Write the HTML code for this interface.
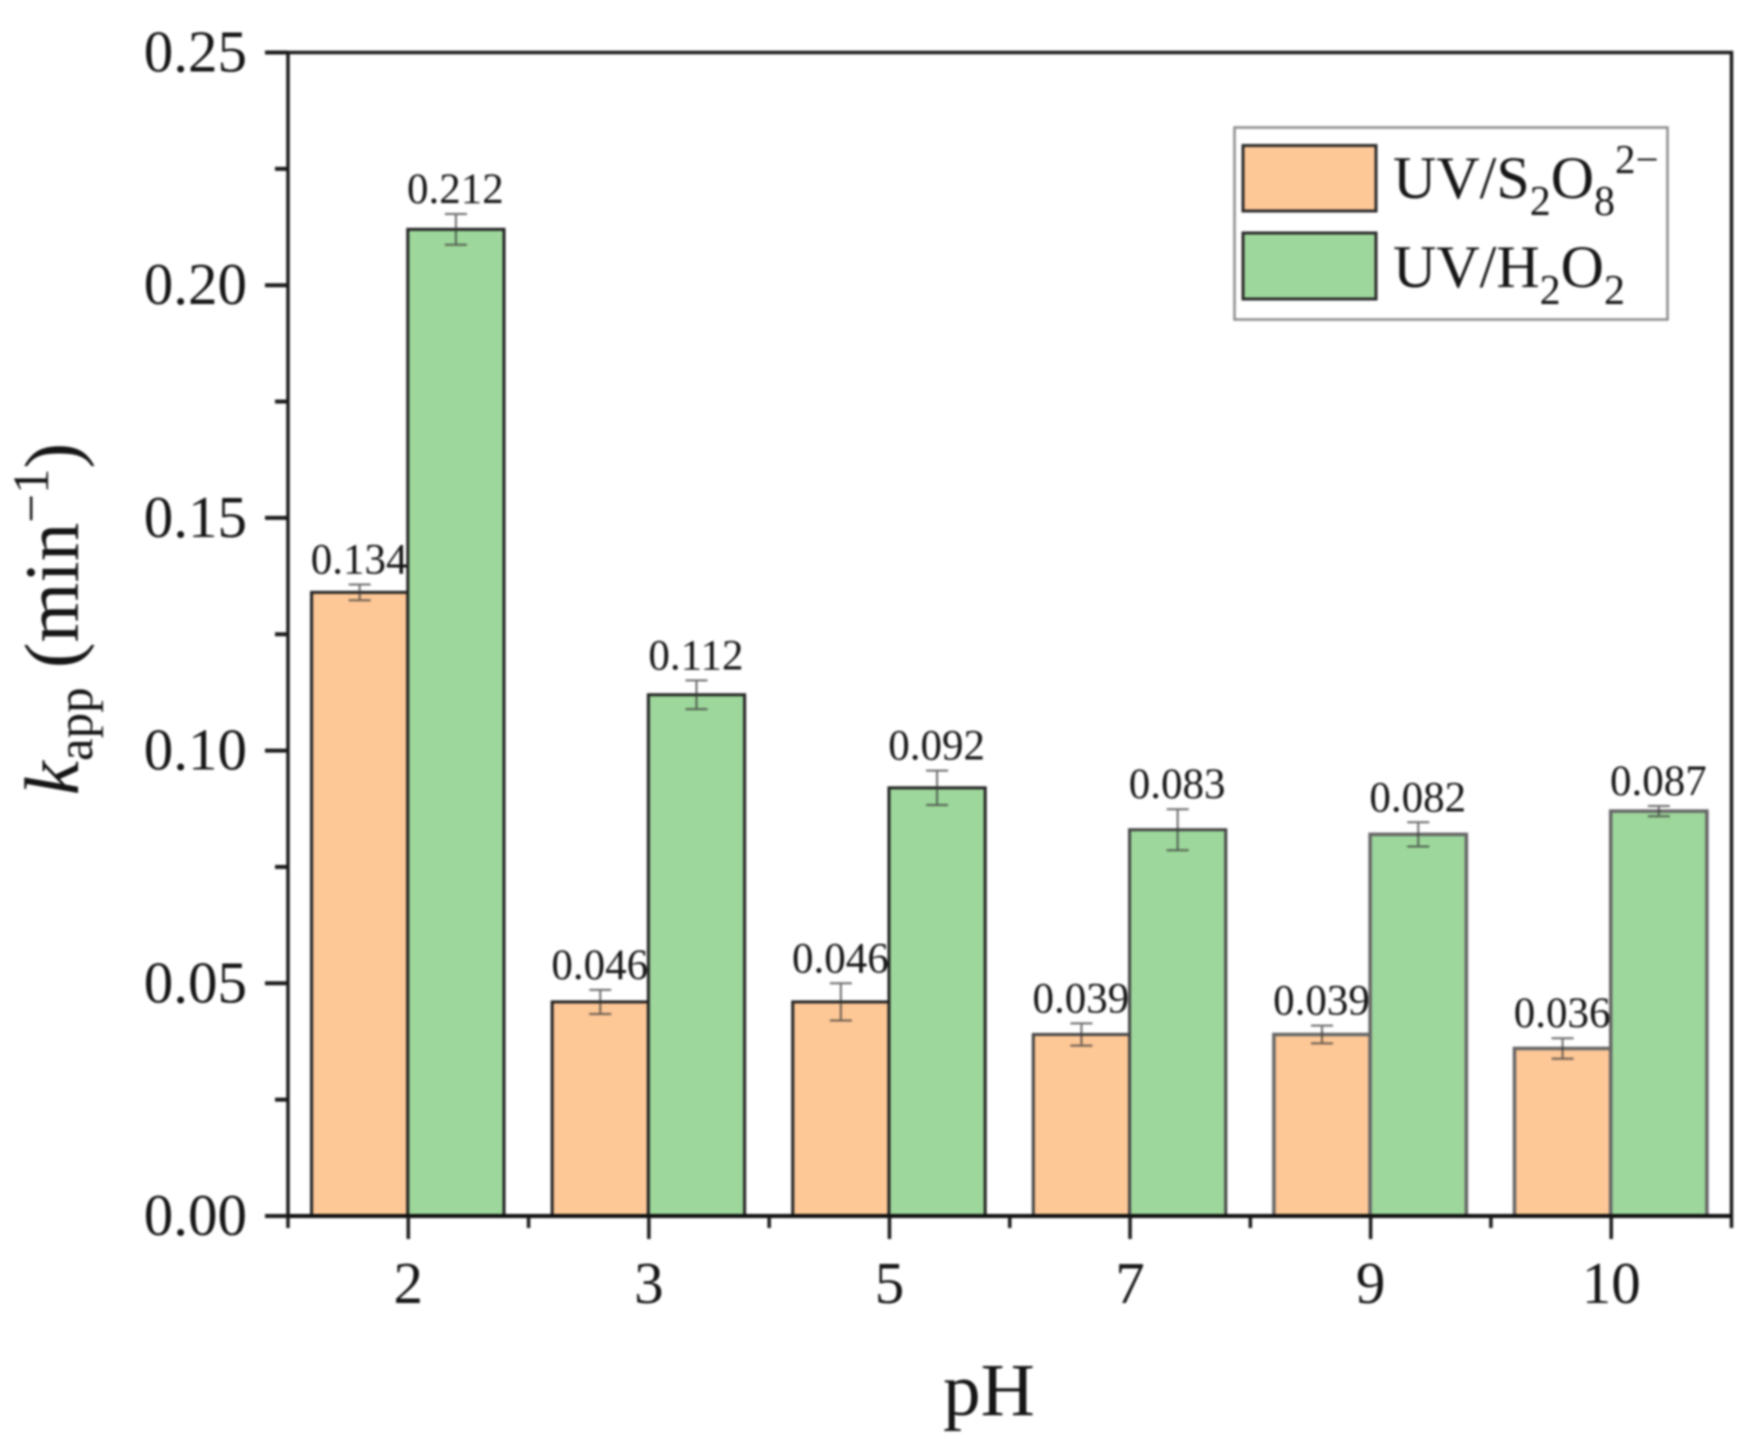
<!DOCTYPE html>
<html lang="en">
<head>
<meta charset="utf-8">
<title>Apparent rate constant vs pH</title>
<style>
html,body{margin:0;padding:0;background:#fff;}
svg{display:block;filter:blur(1px);}
text{font-family:"Liberation Serif",serif;fill:#151515;}
</style>
</head>
<body>
<svg id="chart" xmlns="http://www.w3.org/2000/svg" width="1753" height="1454" viewBox="0 0 1753 1454">
  <rect x="0" y="0" width="1753" height="1454" fill="#ffffff"/>
  <g id="bars-a"></g>
  <g id="bars-b"></g>
  <g id="axes"></g>
  <text x="989" y="1415" font-size="75" text-anchor="middle">pH</text>
  <text transform="translate(78,619) rotate(-90)" font-size="77" text-anchor="middle"><tspan font-style="italic">k</tspan><tspan font-size="51" dy="14">app</tspan><tspan dy="-14"> (min</tspan><tspan font-size="51" dy="-30">−1</tspan><tspan dy="30">)</tspan></text>
  <g>
    <rect x="1234.5" y="127.5" width="433" height="192" fill="#ffffff" stroke="#8c8c8c" stroke-width="2.5"/>
    <rect x="1243" y="145.5" width="133" height="65.5" fill="#FDC796" stroke="#2a2a2a" stroke-width="3"/>
    <text x="1393" y="198" font-size="60">UV/S<tspan font-size="42" dy="17">2</tspan><tspan dy="-17">O</tspan><tspan font-size="42" dy="17">8</tspan><tspan font-size="41" dy="-42">2−</tspan></text>
    <rect x="1243" y="233" width="133" height="66" fill="#9DD79B" stroke="#2a2a2a" stroke-width="3"/>
    <text x="1393" y="287" font-size="60">UV/H<tspan font-size="42" dy="17">2</tspan><tspan dy="-17">O</tspan><tspan font-size="42" dy="17">2</tspan></text>
  </g>
</svg>
<script>
const categories = ['2', '3', '5', '7', '9', '10'];
const persulfateValues = [0.134, 0.046, 0.046, 0.039, 0.039, 0.036];
const persulfateErrors = [0.0017, 0.0026, 0.004, 0.0024, 0.0019, 0.0022];
const peroxideValues = [0.212, 0.112, 0.092, 0.083, 0.082, 0.087];
const peroxideErrors = [0.0033, 0.0031, 0.0037, 0.0044, 0.0026, 0.0011];
const persulfateLabels = ['0.134', '0.046', '0.046', '0.039', '0.039', '0.036'];
const peroxideLabels = ['0.212', '0.112', '0.092', '0.083', '0.082', '0.087'];
const yMajorTicks = ['0.00', '0.05', '0.10', '0.15', '0.20', '0.25'];
const yMinorTicks = [0.025, 0.075, 0.125, 0.175, 0.225];

const NS = 'http://www.w3.org/2000/svg';
const plotLeft = 288, plotRight = 1731.5, plotTop = 52.5, plotBottom = 1216;
const yMax = 0.25;
const catStep = (plotRight - plotLeft) / categories.length;
const barWidth = catStep * 0.4;

function yScale(v) { return plotBottom - (v / yMax) * (plotBottom - plotTop); }
function xCenter(i) { return plotLeft + catStep * (i + 0.5); }
function strokeFor(i) { return i >= 4 ? '#666666' : (i === 3 ? '#444444' : '#222222'); }

function make(tag, attrs, parent) {
  const el = document.createElementNS(NS, tag);
  for (const k in attrs) el.setAttribute(k, attrs[k]);
  parent.appendChild(el);
  return el;
}

function drawSeries(group, values, errors, labels, fill, side, prefix) {
  values.forEach(function (v, i) {
    const cx = xCenter(i);
    const x0 = side < 0 ? cx - barWidth : cx;
    const bar = make('rect', {x: x0 - 0.5, y: yScale(v), width: barWidth, height: plotBottom - yScale(v), fill: fill, stroke: strokeFor(i), 'stroke-width': i >= 4 ? 3.5 : 3}, group);
    
    

    const mid = x0 + barWidth / 2 - 0.5;
    const top = yScale(v + errors[i]);
    const bottom = yScale(v - errors[i]);
    const err = make('path', {d: 'M' + (mid - 11) + ' ' + top + 'H' + (mid + 11) + 'M' + mid + ' ' + top + 'V' + bottom + 'M' + (mid - 11) + ' ' + bottom + 'H' + (mid + 11), fill: 'none', stroke: '#3a3a3a', 'stroke-opacity': 0.75, 'stroke-width': 2}, group);
    
    

    const label = make('text', {x: mid - 0.5, y: top - 11, 'font-size': 43, 'text-anchor': 'middle'}, group);
    label.textContent = labels[i];
    
    
  });
}

drawSeries(document.getElementById('bars-a'), persulfateValues, persulfateErrors, persulfateLabels, '#FDC796', -1, 'persulfate');
drawSeries(document.getElementById('bars-b'), peroxideValues, peroxideErrors, peroxideLabels, '#9DD79B', 1, 'peroxide');

const axes = document.getElementById('axes');

const frame = make('path', {d: 'M' + plotLeft + ' ' + plotBottom + 'V' + plotTop + 'H' + plotRight + 'V' + plotBottom, fill: 'none', stroke: '#1a1a1a', 'stroke-width': 3.5}, axes);



const xAxisLine = make('line', {x1: plotLeft, x2: plotRight, y1: plotBottom, y2: plotBottom, stroke: '#0d0d0d', 'stroke-width': 4}, axes);



yMajorTicks.forEach(function (t) {
  const y = yScale(parseFloat(t));
  const tick = make('line', {x1: 265, x2: plotLeft, y1: y, y2: y, stroke: '#1a1a1a', 'stroke-width': 4}, axes);
  
  
  const label = make('text', {x: 247, y: y + 19, 'font-size': 59, 'text-anchor': 'end'}, axes);
  label.textContent = t;
  
  
});

yMinorTicks.forEach(function (v) {
  const y = yScale(v);
  const tick = make('line', {x1: 275, x2: plotLeft, y1: y, y2: y, stroke: '#1a1a1a', 'stroke-width': 4}, axes);
  
  
});

categories.forEach(function (c, i) {
  const x = xCenter(i);
  const tick = make('line', {x1: x, x2: x, y1: plotBottom, y2: 1239, stroke: '#1a1a1a', 'stroke-width': 3.5}, axes);
  
  
  const label = make('text', {x: x, y: 1303, 'font-size': 59, 'text-anchor': 'middle'}, axes);
  label.textContent = c;
  
  
});

for (let i = 0; i <= categories.length; i++) {
  const x = plotLeft + catStep * i;
  const tick = make('line', {x1: x, x2: x, y1: plotBottom, y2: 1228, stroke: '#1a1a1a', 'stroke-width': 3.5}, axes);
  
  
}
</script>
</body>
</html>
